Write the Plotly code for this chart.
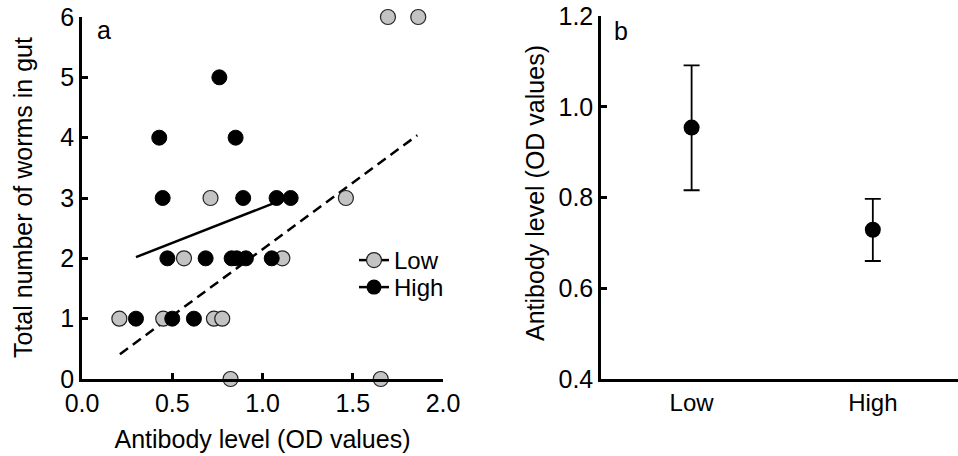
import plotly.graph_objects as go

# ---- Panel a data ----
low_x = [1.695, 1.863, 0.823, 1.655, 0.712, 1.462, 0.565, 1.11, 0.207, 0.45, 0.731, 0.777]
low_y = [6, 6, 0, 0, 3, 3, 2, 2, 1, 1, 1, 1]
high_x = [0.761, 0.428, 0.851, 0.447, 0.893, 1.078, 1.156, 0.473, 0.685, 0.829, 0.857, 0.908, 1.051, 0.299, 0.5, 0.62]
high_y = [5, 4, 4, 3, 3, 3, 3, 2, 2, 2, 2, 2, 2, 1, 1, 1]
fit_high_x = [0.299, 1.06]
fit_high_y = [2.02, 2.91]
fit_low_x = [0.21, 1.858]
fit_low_y = [0.41, 4.04]
xticks_a = [0.0, 0.5, 1.0, 1.5, 2.0]
yticks_a = [0, 1, 2, 3, 4, 5, 6]

# ---- Panel b data ----
groups = ["Low", "High"]
means = [0.954, 0.729]
err_plus = [0.137, 0.068]
err_minus = [0.138, 0.069]
yticks_b = [0.4, 0.6, 0.8, 1.0, 1.2]

FONT = "Liberation Sans, Arial, Helvetica, sans-serif"
GRAY = "#c3c3c3"
FS = 25

# the page body margin is removed (post_script below), so the figure fills the window
W, H, OFF = 958, 456, 0


def px(X):
    return (X - OFF) / W


def py(Y):
    return 1 - (Y - OFF) / H


fig = go.Figure()

fig.add_trace(go.Scatter(x=fit_low_x, y=fit_low_y, mode="lines",
                         line=dict(color="black", width=2.5, dash="10px,6px"),
                         showlegend=False, xaxis="x", yaxis="y"))
fig.add_trace(go.Scatter(x=fit_high_x, y=fit_high_y, mode="lines",
                         line=dict(color="black", width=2.5),
                         showlegend=False, xaxis="x", yaxis="y"))
fig.add_trace(go.Scatter(x=low_x, y=low_y, mode="markers", cliponaxis=False,
                         marker=dict(size=15, color=GRAY, line=dict(color="#222", width=1.2)),
                         showlegend=False, xaxis="x", yaxis="y"))
fig.add_trace(go.Scatter(x=high_x, y=high_y, mode="markers", cliponaxis=False,
                         marker=dict(size=15, color="black", line=dict(color="black", width=1)),
                         showlegend=False, xaxis="x", yaxis="y"))
# legend entries (one legend box each, for tight spacing)
fig.add_trace(go.Scatter(x=[None], y=[None], mode="lines+markers", name="Low",
                         line=dict(color="black", width=2.5),
                         marker=dict(size=15, color=GRAY, line=dict(color="#222", width=1.2)),
                         xaxis="x", yaxis="y", legend="legend"))
fig.add_trace(go.Scatter(x=[None], y=[None], mode="lines+markers", name="High",
                         line=dict(color="black", width=2.5),
                         marker=dict(size=15, color="black"),
                         xaxis="x", yaxis="y", legend="legend2"))

fig.add_trace(go.Scatter(x=groups, y=means, mode="markers", cliponaxis=False,
                         marker=dict(size=16, color="black"),
                         error_y=dict(type="data", symmetric=False, array=err_plus,
                                      arrayminus=err_minus, color="black",
                                      thickness=1.8, width=8),
                         showlegend=False, xaxis="x2", yaxis="y2"))

axis_common = dict(showline=True, linewidth=2.5, linecolor="black", ticks="inside",
                   ticklen=6, tickwidth=2.5, tickcolor="black", showgrid=False,
                   zeroline=False, automargin=False, ticklabeloverflow="allow",
                   tickfont=dict(size=FS, color="black", family=FONT))

legend_common = dict(xanchor="left", yanchor="top", font=dict(size=24), itemwidth=30,
                     bgcolor="rgba(0,0,0,0)")

fig.update_layout(
    width=W, height=H,
    margin=dict(l=0, r=0, t=0, b=0, autoexpand=False),
    paper_bgcolor="white", plot_bgcolor="white",
    font=dict(family=FONT, size=FS, color="black"),
    xaxis=dict(domain=[px(82), px(443)], range=[0, 2], tickvals=xticks_a,
               tickformat=".1f", anchor="y",
               title=dict(text="Antibody level (OD values)", font=dict(size=FS)),
               **axis_common),
    yaxis=dict(domain=[py(379), py(17)], range=[0, 6], tickvals=yticks_a, anchor="x",
               **axis_common),
    xaxis2=dict(domain=[px(601), 1.0], range=[-0.5, 1.47], anchor="y2",
                showline=True, linewidth=2.5, linecolor="black", ticks="",
                showgrid=False, zeroline=False, automargin=False,
                tickfont=dict(size=24, color="black", family=FONT)),
    yaxis2=dict(domain=[py(379), py(16)], range=[0.4, 1.2], tickvals=yticks_b,
                tickformat=".1f", anchor="x2",
                **axis_common),
    legend=dict(x=px(354), y=py(238), **legend_common),
    legend2=dict(x=px(354), y=py(265), **legend_common),
    annotations=[
        dict(text="Total number of worms in gut", x=px(23), y=py(198), xref="paper",
             yref="paper", textangle=-90, showarrow=False, xanchor="center",
             yanchor="middle", font=dict(size=FS)),
        dict(text="Antibody level (OD values)", x=px(535), y=py(193), xref="paper",
             yref="paper", textangle=-90, showarrow=False, xanchor="center",
             yanchor="middle", font=dict(size=FS)),
        dict(text="a", x=px(104), y=py(30), xref="paper", yref="paper",
             showarrow=False, xanchor="center", yanchor="middle", font=dict(size=FS)),
        dict(text="b", x=px(621), y=py(31), xref="paper", yref="paper",
             showarrow=False, xanchor="center", yanchor="middle", font=dict(size=FS)),
    ],
)

fig.write_html("out.html", config={"displayModeBar": False},
               post_script="document.body.style.margin='0';")
